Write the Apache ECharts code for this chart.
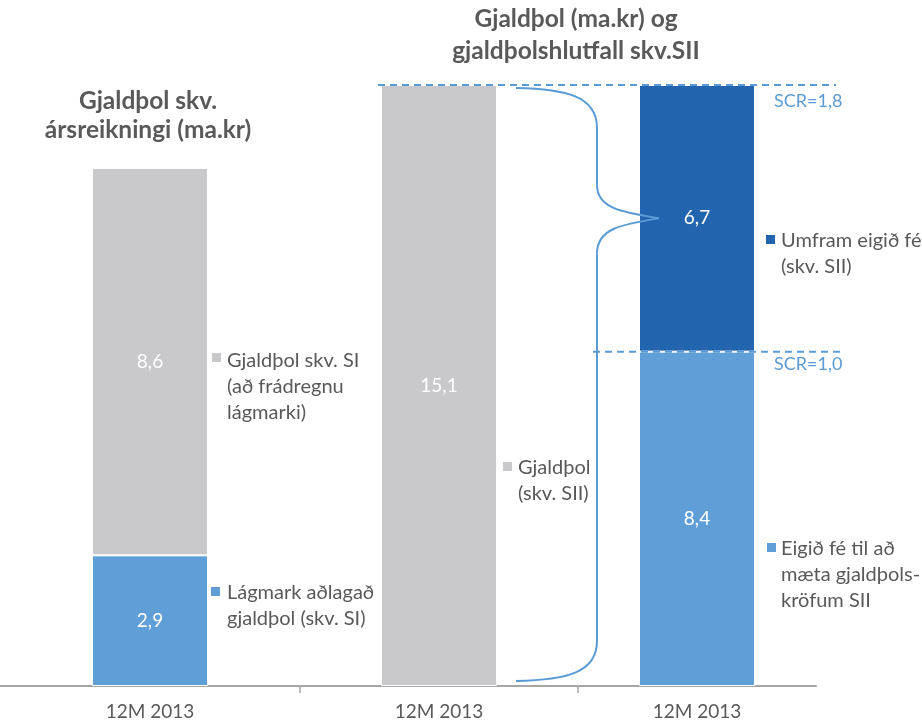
<!DOCTYPE html>
<html>
<head>
<meta charset="utf-8">
<script src="https://cdn.jsdelivr.net/npm/echarts@6/dist/echarts.min.js"></script>
<style>html,body{margin:0;padding:0;background:#fff;}#c{width:922px;height:722px;}</style>
</head>
<body>
<div id="c"></div>
<script>
// ---- data ----
const categories = ['12M 2013'];
const siMinimum = [2.9];      // Lágmark aðlagað gjaldþol (skv. SI)
const siSurplus = [8.6];      // Gjaldþol skv. SI (að frádregnu lágmarki)
const siiOwnFunds = [15.1];   // Gjaldþol (skv. SII)
const siiRequired = [8.4];    // Eigið fé til að mæta gjaldþolskröfum SII
const siiExcess = [6.7];      // Umfram eigið fé (skv. SII)
const scrLabels = ['SCR=1,8', 'SCR=1,0'];
const scrValues = [15.1, 8.4];

const FONT = 'Lato, "Open Sans", sans-serif';
const TXT = '#595959';
const GRAY = '#c9c9cb';
const LBLUE = '#5f9ed6';
const DBLUE = '#2364ae';
const LINE = '#5b9bd5';

const chart = echarts.init(document.getElementById('c'), null, {renderer: 'canvas'});
const fmt = p => p.value.toFixed(1).replace('.', ',');
const lbl = {show: true, position: 'inside', color: '#fff', fontSize: 19, fontFamily: FONT, formatter: fmt};

const grids = [
  {left: 0, width: 300, top: 85, height: 601},
  {left: 300, width: 278, top: 85, height: 601},
  {left: 578, width: 238, top: 85, height: 601}
];
const xAxes = grids.map((g, i) => ({
  type: 'category', gridIndex: i, data: categories,
  axisLine: {show: true, lineStyle: {color: '#a6a6a6', width: 2}},
  axisTick: {show: i === 1, length: 7, lineStyle: {color: '#a6a6a6', width: 1.5}},
  axisLabel: {color: TXT, fontSize: 19, fontFamily: FONT, margin: 16}
}));
const yMax = [13.34, 15.1, 15.1];
const yAxes = grids.map((g, i) => ({
  type: 'value', gridIndex: i, min: 0, max: yMax[i], show: false
}));

function bar(name, xi, data, color, stack) {
  return {
    name, type: 'bar', xAxisIndex: xi, yAxisIndex: xi, data, stack,
    barWidth: 116,
    itemStyle: {color, borderColor: '#fff', borderWidth: 1},
    label: lbl, animation: false
  };
}

chart.setOption({
  animation: false,
  grid: grids,
  xAxis: xAxes,
  yAxis: yAxes,
  series: [
    bar('Lágmark aðlagað gjaldþol (skv. SI)', 0, siMinimum, LBLUE, 's1'),
    bar('Gjaldþol skv. SI (að frádregnu lágmarki)', 0, siSurplus, GRAY, 's1'),
    bar('Gjaldþol (skv. SII)', 1, siiOwnFunds, GRAY, 's2'),
    bar('Eigið fé til að mæta gjaldþolskröfum SII', 2, siiRequired, LBLUE, 's3'),
    bar('Umfram eigið fé (skv. SII)', 2, siiExcess, DBLUE, 's3')
  ]
});

// ---- annotations ----
const py = v => chart.convertToPixel({yAxisIndex: 2}, v);
const yTop = py(scrValues[0]);
const yMid = py(scrValues[1]);
const yTip = py(siiRequired[0] + siiExcess[0] / 2);
const yBot = py(0);

const g = [];
// titles
g.push({type: 'text', z: 10, style: {text: 'Gjaldþol skv.\nársreikningi (ma.kr)', x: 148, y: 87, textAlign: 'center', textVerticalAlign: 'top',
  fontSize: 24.5, fontWeight: 'bold', fontFamily: FONT, fill: TXT, lineHeight: 29}});
g.push({type: 'text', z: 10, style: {text: 'Gjaldþol (ma.kr) og\ngjaldþolshlutfall skv.SII', x: 576, y: 3, textAlign: 'center', textVerticalAlign: 'top',
  fontSize: 24.5, fontWeight: 'bold', fontFamily: FONT, fill: TXT, lineHeight: 32}});
// dashed SCR lines
g.push({type: 'line', z: 10, shape: {x1: 378, y1: yTop, x2: 836, y2: yTop}, style: {stroke: LINE, lineWidth: 2, lineDash: [7, 5]}});
g.push({type: 'line', z: 10, shape: {x1: 593, y1: yMid, x2: 840, y2: yMid}, style: {stroke: LINE, lineWidth: 2, lineDash: [7, 5]}});
g.push({type: 'text', z: 10, style: {text: scrLabels[0], x: 774, y: yTop + 7, fontSize: 18, fontFamily: FONT, fill: LINE, textVerticalAlign: 'top'}});
g.push({type: 'text', z: 10, style: {text: scrLabels[1], x: 774, y: yMid + 4, fontSize: 18, fontFamily: FONT, fill: LINE, textVerticalAlign: 'top'}});
// brace
const bx = 597, tipX = 659, lx = 516;
const t = yTop + 3, b = yBot - 5;
const bst = {stroke: LINE, lineWidth: 2, fill: null};
const curves = [
  [lx, t, bx, t + 40, lx + 50, t + 1, bx, t + 8],
  [bx, yTip - 33, tipX, yTip, bx, yTip - 10, bx + 25, yTip - 6],
  [tipX, yTip, bx, yTip + 35, bx + 25, yTip + 6, bx, yTip + 10],
  [bx, b - 40, lx, b, bx, b - 8, lx + 50, b - 1]
];
curves.forEach(c => g.push({type: 'bezierCurve', z: 10,
  shape: {x1: c[0], y1: c[1], x2: c[2], y2: c[3], cpx1: c[4], cpy1: c[5], cpx2: c[6], cpy2: c[7]}, style: bst}));
g.push({type: 'line', z: 10, shape: {x1: bx, y1: t + 40, x2: bx, y2: yTip - 33}, style: bst});
g.push({type: 'line', z: 10, shape: {x1: bx, y1: yTip + 35, x2: bx, y2: b - 40}, style: bst});

// side labels
const side = [
  {c: GRAY, sx: 212, sy: 353, tx: 227, ty: 361, t: 'Gjaldþol skv. SI\n(að frádregnu\nlágmarki)'},
  {c: LBLUE, sx: 211, sy: 587, tx: 227, ty: 593, t: 'Lágmark aðlagað\ngjaldþol (skv. SI)'},
  {c: GRAY, sx: 503, sy: 462, tx: 518, ty: 468, t: 'Gjaldþol\n(skv. SII)'},
  {c: DBLUE, sx: 766, sy: 235, tx: 781, ty: 241, t: 'Umfram eigið fé\n(skv. SII)'},
  {c: LBLUE, sx: 767, sy: 543, tx: 781, ty: 549, t: 'Eigið fé til að\nmæta gjaldþols-\nkröfum SII'}
];
side.forEach(s => {
  g.push({type: 'rect', z: 10, shape: {x: s.sx, y: s.sy, width: 9, height: 9}, style: {fill: s.c}});
  g.push({type: 'text', z: 10, style: {text: s.t, x: s.tx, y: s.ty - 13, textVerticalAlign: 'top', fontSize: 20,
    fontFamily: FONT, fill: TXT, lineHeight: 26}});
});
chart.setOption({graphic: g});
</script>
</body>
</html>
